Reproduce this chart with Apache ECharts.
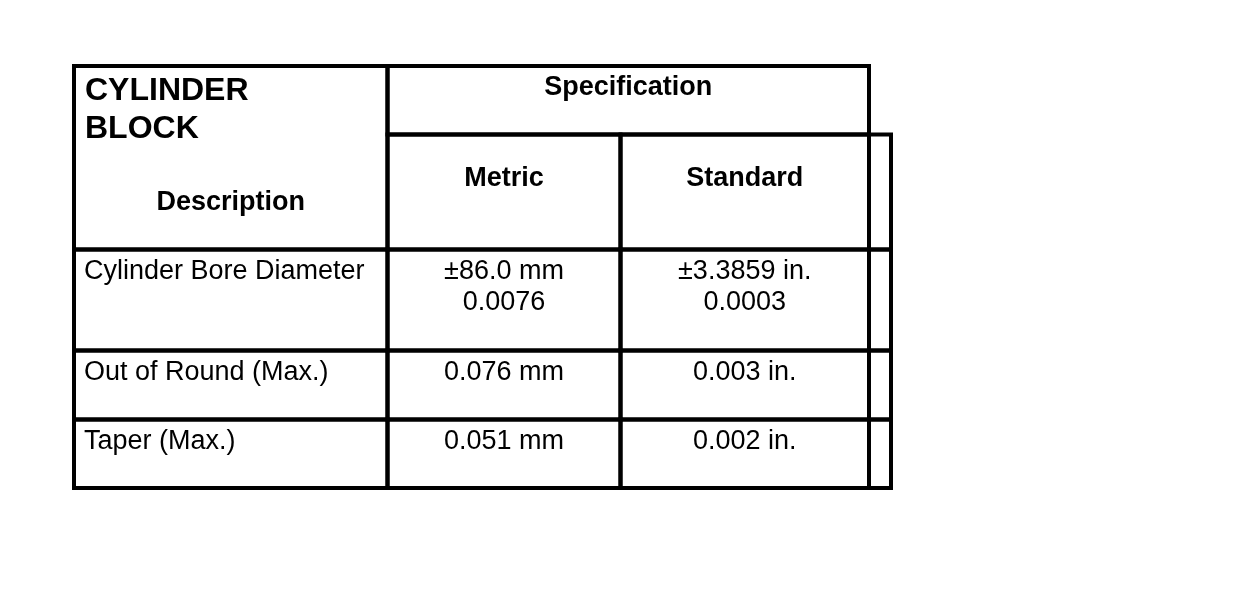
<!DOCTYPE html>
<html>
<head>
<meta charset="utf-8">
<script src="https://cdn.jsdelivr.net/npm/echarts@6/dist/echarts.min.js"></script>
<style>
html, body { margin: 0; background: #fff; }
#specTable { width: 1248px; height: 592px; }
</style>
</head>
<body>
<div id="specTable"></div>
<script>
// table text
var tableTitle = 'CYLINDER\nBLOCK';
var descHeader = 'Description';
var specHeader = 'Specification';
var unitHeaders = ['Metric', 'Standard'];
var descriptions = ['Cylinder Bore Diameter', 'Out of Round (Max.)', 'Taper (Max.)'];
var metricValues = ['±86.0 mm\n0.0076', '0.076 mm', '0.051 mm'];
var standardValues = ['±3.3859 in.\n0.0003', '0.003 in.', '0.002 in.'];

// grid lines of the table, in axis units
var colEdges = [0, 313.5, 546.5, 795, 817];
var rowEdges = [0, 68.5, 183.5, 284.5, 353.5, 422];

var FONT = '"Liberation Sans", Arial, sans-serif';

// each cell: column span, row span, text, look
var cells = [];
function addCell(c0, c1, r0, r1, text, look) {
    cells.push({ c0: c0, c1: c1, r0: r0, r1: r1, text: text, look: look });
}
addCell(0, 1, 0, 2, tableTitle, 'title');
addCell(0, 1, 0, 2, descHeader, 'desc');
addCell(1, 3, 0, 1, specHeader, 'spec');
addCell(1, 2, 1, 2, unitHeaders[0], 'unit');
addCell(2, 3, 1, 2, unitHeaders[1], 'unit');
addCell(3, 4, 1, 2, '', 'blank');
for (var i = 0; i < descriptions.length; i++) {
    addCell(0, 1, i + 2, i + 3, descriptions[i], 'left');
    addCell(1, 2, i + 2, i + 3, metricValues[i], 'center');
    addCell(2, 3, i + 2, i + 3, standardValues[i], 'center');
    addCell(3, 4, i + 2, i + 3, '', 'blank');
}

// title shares the description cell, so it draws no border of its own
var looks = {
    title:  { size: 32, bold: true,  align: 'left',   dx: 11, dy: 6.5, lh: 38, noBorder: true },
    desc:   { size: 27, bold: true,  align: 'center', dx: 0,  dy: 122, lh: 30 },
    spec:   { size: 27, bold: true,  align: 'center', dx: 0,  dy: 6.5, lh: 30 },
    unit:   { size: 27, bold: true,  align: 'center', dx: 0,  dy: 29.5, lh: 30 },
    left:   { size: 27, bold: false, align: 'left',   dx: 10, dy: 7,   lh: 31 },
    center: { size: 27, bold: false, align: 'center', dx: 0,  dy: 7,   lh: 31 },
    blank:  { size: 27, bold: false, align: 'center', dx: 0,  dy: 0,   lh: 31 }
};

function renderCell(params, api) {
    var cell = cells[params.dataIndex];
    var p0 = api.coord([api.value(0), api.value(2)]);
    var p1 = api.coord([api.value(1), api.value(3)]);
    var lk = looks[cell.look];
    var children = [];
    if (!lk.noBorder) {
        children.push({
            type: 'rect',
            shape: { x: p0[0], y: p0[1], width: p1[0] - p0[0], height: p1[1] - p0[1] },
            style: { fill: 'none', stroke: '#000', lineWidth: 4 }
        });
    }
    if (cell.text) {
        var tx = lk.align === 'left' ? p0[0] + lk.dx : (p0[0] + p1[0]) / 2;
        children.push({
            type: 'text',
            x: tx,
            y: p0[1] + lk.dy,
            style: {
                text: cell.text,
                font: (lk.bold ? 'bold ' : '') + lk.size + 'px ' + FONT,
                fill: '#000',
                align: lk.align,
                verticalAlign: 'top',
                lineHeight: lk.lh
            }
        });
    }
    return { type: 'group', children: children };
}

var tableChart = echarts.init(document.getElementById('specTable'));

var tableOption = {
    backgroundColor: '#fff',
    animation: false,
    grid: { left: 74, top: 66, right: 357, bottom: 104 },
    xAxis: { type: 'value', min: 0, max: colEdges[colEdges.length - 1], show: false },
    yAxis: { type: 'value', min: 0, max: rowEdges[rowEdges.length - 1], inverse: true, show: false },
    series: [{
        type: 'custom',
        clip: false,
        renderItem: renderCell,
        data: cells.map(function (c) {
            return [colEdges[c.c0], colEdges[c.c1], rowEdges[c.r0], rowEdges[c.r1]];
        })
    }]
};

tableChart.setOption(tableOption);
</script>
</body>
</html>
